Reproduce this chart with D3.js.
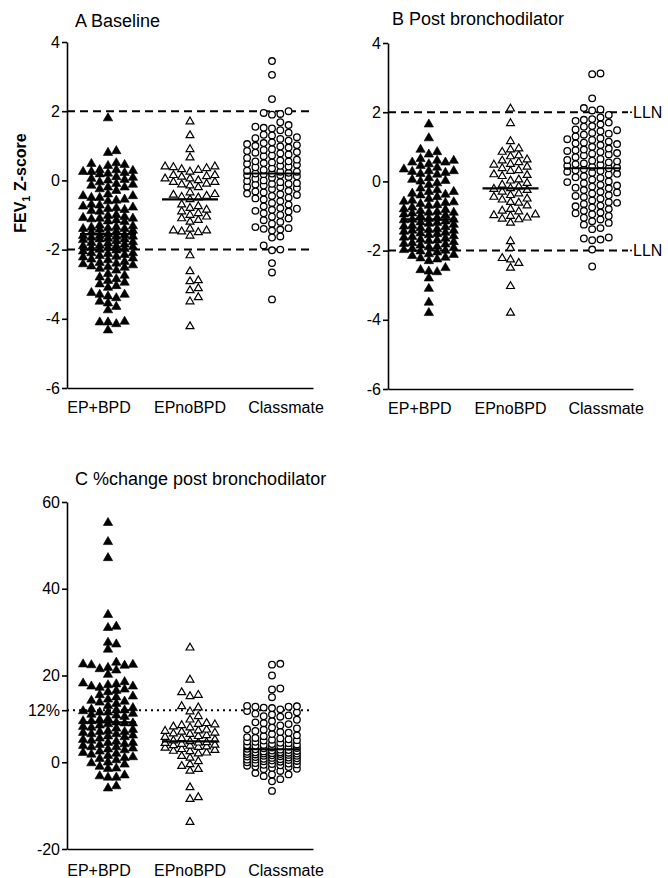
<!DOCTYPE html>
<html>
<head>
<meta charset="utf-8">
<script src="https://cdn.jsdelivr.net/npm/d3@7"></script>
<style>
  html, body { margin: 0; padding: 0; background: #fff; }
  svg { display: block; font-family: "Liberation Sans", Arial, sans-serif; }
  .axis path, .axis line { stroke: #000; stroke-width: 1.6; }
  .axis text { font-size: 16px; fill: #000; }
</style>
</head>
<body>
<svg id="chart" width="668" height="878"></svg>
<script>
// ---------- Data ----------
const categories = ['EP+BPD', 'EPnoBPD', 'Classmate'];

const zTicks = [4, 2, 0, -2, -4, -6];
const changeTicks = [60, 40, 20, 12, 0, -20];
const changeTickLabels = ['60', '40', '20', '12%', '0', '-20'];
const llnLevels = [2, -2];
const changeThreshold = 12;

// A Baseline FEV1 z-score
const baseEpBpd = [1.8, 0.85, 0.8,
  0.5, 0.45, 0.42, 0.48,
  0.3, 0.28, 0.25, 0.22, 0.2, 0.3, 0.25, 0.18,
  0.05, 0.1, 0.0, -0.05, 0.08, 0.02,
  -0.1, -0.15, -0.2, -0.25, -0.3, -0.2, -0.12,
  -0.4, -0.45, -0.5, -0.55, -0.6, -0.5, -0.45, -0.58,
  -0.7, -0.75, -0.8, -0.85, -0.9, -0.72, -0.78, -0.88, -0.82,
  -1.0, -1.05, -1.1, -1.15, -1.2, -1.02, -1.08, -1.12, -1.18, -1.1,
  -1.3, -1.35, -1.4, -1.45, -1.5, -1.32, -1.38, -1.42, -1.48, -1.4, -1.36,
  -1.55, -1.6, -1.65, -1.7, -1.75, -1.58, -1.62, -1.68, -1.72, -1.6, -1.62, -1.7,
  -1.8, -1.85, -1.9, -1.95, -2.0, -1.82, -1.88, -1.92, -1.98, -1.78, -1.9, -1.95,
  -2.05, -2.1, -2.15, -2.2, -2.25, -2.3, -2.12, -2.18, -2.22, -2.02, -2.28, -2.1,
  -2.35, -2.4, -2.45, -2.5, -2.55, -2.6, -2.42, -2.52, -2.38, -2.48,
  -2.7, -2.75, -2.85, -2.9, -2.8,
  -2.95, -3.0, -3.05, -3.1,
  -3.25, -3.3, -3.35, -3.4, -3.3,
  -3.5, -3.55, -3.65, -3.75,
  -4.08, -4.1, -4.15, -4.1, -4.33];
const baseEpNoBpd = [1.7, 1.3, 0.9, 0.66,
  0.4, 0.32, 0.35, 0.3, 0.4, 0.25, 0.38,
  0.15, 0.05, 0.0, 0.1, 0.05, 0.15, -0.05, 0.12,
  -0.1, -0.2, -0.15, -0.12, -0.05,
  -0.4, -0.45, -0.5, -0.35, -0.42, -0.55, -0.48,
  -0.75, -0.8, -0.9, -0.7, -0.85,
  -1.0, -1.1, -1.2, -1.05, -1.15, -0.95,
  -1.45, -1.5, -1.6, -1.45, -1.4, -1.48,
  -2.17, -2.63, -2.89, -2.92, -3.12, -3.18, -3.38, -3.5, -4.22];
const baseClassmate = [3.45, 3.05, 2.35,
  2.0, 1.95, 1.92, 1.9,
  1.68, 1.55, 1.5, 1.45, 1.52, 1.6,
  1.38, 1.3, 1.25, 1.2, 1.15, 1.32, 1.22,
  1.1, 1.05, 1.0, 0.98, 0.95, 1.08, 1.02,
  0.9, 0.85, 0.8, 0.75, 0.7, 0.65, 0.88, 0.78, 0.72, 0.82,
  0.6, 0.55, 0.5, 0.45, 0.4, 0.35, 0.58, 0.52, 0.48, 0.42, 0.38, 0.55,
  0.3, 0.28, 0.25, 0.22, 0.2, 0.18, 0.15, 0.12, 0.1, 0.08, 0.05, 0.25, 0.2, 0.15,
  0.0, -0.02, -0.05, -0.08, -0.1, -0.12, -0.15, -0.18, -0.2, -0.22, -0.25, -0.1,
  -0.3, -0.32, -0.35, -0.4, -0.42, -0.45, -0.5, -0.52, -0.55, -0.38,
  -0.6, -0.65, -0.7, -0.75, -0.8, -0.85, -0.9, -0.95, -0.88, -0.82,
  -1.0, -1.05, -1.1, -1.15, -1.2, -1.25,
  -1.35, -1.38, -1.4, -1.42, -1.45,
  -1.62, -1.65,
  -1.88, -2.0, -2.02,
  -2.39, -2.66, -3.44];
const baseMedians = [-1.55, -0.55, 0.2];

// B Post bronchodilator FEV1 z-score
const postEpBpd = [1.65, 1.25,
  0.92, 0.85, 0.78, 0.65,
  0.6, 0.55, 0.5, 0.45, 0.4, 0.55, 0.6,
  0.35, 0.3, 0.25, 0.2, 0.3, 0.22, 0.28,
  0.1, 0.05, 0.0, -0.05, -0.1, 0.02,
  -0.2, -0.25, -0.3, -0.35, -0.4, -0.45, -0.3, -0.38,
  -0.5, -0.55, -0.6, -0.65, -0.7, -0.75, -0.58, -0.68, -0.62,
  -0.8, -0.85, -0.9, -0.95, -1.0, -0.82, -0.88, -0.92, -0.98, -0.9,
  -1.05, -1.1, -1.15, -1.2, -1.25, -1.08, -1.12, -1.18, -1.22, -1.1,
  -1.3, -1.35, -1.4, -1.45, -1.5, -1.32, -1.42, -1.48, -1.38, -1.28, -1.42,
  -1.55, -1.6, -1.65, -1.7, -1.75, -1.58, -1.68, -1.72, -1.52, -1.62,
  -1.8, -1.85, -1.9, -1.95, -2.0, -1.82, -1.92, -1.98, -1.88, -1.78,
  -2.05, -2.1, -2.15, -2.2, -2.25, -2.3, -2.12, -2.22, -2.02,
  -2.5, -2.56, -2.6, -2.62, -2.8, -3.1, -3.5, -3.8];
const postEpNoBpd = [2.1, 1.68, 1.16,
  0.95, 0.92, 0.85, 0.75, 0.72, 0.63, 0.6, 0.55,
  0.5, 0.48, 0.42, 0.38, 0.32, 0.3,
  0.2, 0.18, 0.15, 0.05, 0.02,
  -0.05, -0.1, -0.15, -0.2, -0.22, -0.25, -0.3, -0.35, -0.4,
  -0.45, -0.5, -0.53, -0.6, -0.62, -0.7,
  -0.8, -0.85, -0.87, -0.96, -1.0, -1.05, -1.08, -1.1, -0.98, -1.2,
  -1.73, -1.93, -2.22, -2.26, -2.36, -2.5, -3.03, -3.8];
const postClassmate = [3.12, 3.1, 2.4, 2.12, 2.08, 2.05,
  1.92, 1.85, 1.8, 1.78, 1.75, 1.7, 1.65, 1.6,
  1.58, 1.5, 1.45, 1.4, 1.35, 1.3, 1.48, 1.38,
  1.25, 1.2, 1.15, 1.1, 1.05, 1.0, 1.22, 1.12, 1.08,
  0.95, 0.9, 0.85, 0.8, 0.75, 0.7, 0.92, 0.82, 0.78, 0.88,
  0.65, 0.6, 0.55, 0.5, 0.45, 0.4, 0.62, 0.52, 0.48, 0.42, 0.58,
  0.38, 0.35, 0.3, 0.25, 0.2, 0.15, 0.1, 0.32, 0.22, 0.12, 0.28,
  0.05, 0.0, -0.05, -0.1, -0.15, -0.2, -0.02, -0.12, -0.18,
  -0.25, -0.3, -0.35, -0.4, -0.45, -0.5, -0.32, -0.42,
  -0.55, -0.6, -0.65, -0.7, -0.75, -0.8, -0.62, -0.72,
  -0.85, -0.9, -0.95, -1.0, -1.05, -1.1, -0.92,
  -1.15, -1.2, -1.25, -1.35, -1.38,
  -1.62, -1.65, -1.68, -1.7,
  -1.97, -2.46];
const postMedians = [-1.1, -0.2, 0.38];

// C % change post bronchodilator
const changeEpBpd = [55.2, 50.8, 47.1, 34, 31.3, 31, 27.6, 27.2, 26,
  22.5, 22.3, 23, 22.6, 22.4, 21.8, 21.5, 21.2, 20.2,
  18.5, 18, 17.5, 17.8, 17.2, 16.5, 16.8, 16.2, 17.5, 18.2,
  15.5, 15, 14.5, 14, 13.5, 13, 15.2, 14.2, 13.8,
  12.5, 12, 11.5, 11, 10.5, 12.2, 11.8, 11.2, 10.8, 12, 11.5,
  10, 9.5, 9, 8.5, 8, 9.8, 9.2, 8.8, 8.2, 9.5, 9,
  7.5, 7, 6.5, 6, 5.5, 7.2, 6.8, 6.2, 5.8, 7, 6.5, 7.8,
  5, 4.5, 4, 3.5, 3, 4.8, 4.2, 3.8, 3.2, 4.5, 5.2, 3.5,
  2.5, 2, 1.5, 1, 0.5, 2.2, 1.2, 0.8, 2.8, 1.8,
  0, -0.5, -1, -1.4, -1.5, -0.2,
  -3, -3.5, -3.5, -3.2,
  -6, -5.5];
const changeEpNoBpd = [26.4, 19, 16.1, 15.2, 15.5, 12.9, 12.6, 11.7, 10.6, 9.8,
  9, 8.7, 8.5, 8.2, 8.8, 8,
  7.5, 7.2, 7, 6.8, 6.5, 7.3, 6.6,
  6.2, 6, 5.8, 5.5, 5.2, 5,
  4.8, 4.5, 4.2, 4, 3.8, 3.5, 4.4, 3.6, 3.9, 4.6,
  3.3, 3, 2.8, 2.5, 2, 2.2, 2.6,
  1.4, 1.0, 0.2, -0.5, -0.9, -1.6, -2,
  -5.8, -8.1, -8.5, -13.8];
const changeClassmate = [22.7, 22.5, 20, 17, 16.8, 15,
  13, 12.9, 12.8, 12.5, 12.6, 12.2, 12.8,
  11.8, 11.5, 11.2, 10.8, 10.5, 10.6, 11,
  9.8, 9.5, 9, 8.5, 8, 9.2, 8.8,
  7.8, 7.5, 7, 6.5, 6, 7.2, 6.8, 6.2, 7.6,
  5.8, 5.5, 5.2, 5, 4.8, 4.5, 5.6, 5.3, 4.7, 5.1,
  4.4, 4.2, 4, 3.8, 3.6, 3.4, 3.2, 3, 4.1, 3.7, 3.3, 3.1, 3.9,
  2.9, 2.7, 2.5, 2.3, 2.1, 1.9, 1.7, 1.5, 2.8, 2.4, 2.0, 1.6, 2.6, 2.2, 1.8, 2.0, 1.5, 1.9, 2.3,
  1.4, 1.2, 1.0, 0.8, 0.6, 0.4, 0.2, 0, 1.1, 0.5, 0.9, 0.3, 1.3, 0.7, 0.1, 0.6,
  -0.2, -0.5, -0.8, -1.0, -1.3, -1.6, -2.0, -0.6, -0.3, -1.1, -0.4, -0.7, -1.5,
  -2.5, -2.8, -2.8, -3.2, -3.9, -4.4,
  -6.6];
const changeMedians = [9.2, 4.8, 3.0];

// ---------- Drawing ----------
const svg = d3.select('#chart');
const markers = ['filledTriangle', 'openTriangle', 'openCircle'];
const labelShift = [-9, 0, 14];

// column scatter: points stacked into up to 7 columns so that near values spread sideways
function swarm(values, y, cx, step, maxCol, minDy) {
  const order = [0];
  for (let k = 1; k <= maxCol; k++) order.push(k, -k);
  const placed = [];
  return values.slice().sort((a, b) => a - b).map(v => {
    const py = y(v);
    let best = 0, bestGap = -1;
    for (const c of order) {
      const same = placed.filter(p => p.col === c);
      const gap = same.length ? d3.min(same, p => Math.abs(p.py - py)) : Infinity;
      if (gap >= minDy) { best = c; break; }
      if (gap > bestGap) { bestGap = gap; best = c; }
    }
    placed.push({ col: best, py });
    return { v, x: cx + best * step, y: py };
  });
}

function drawPanel(cfg) {
  const g = svg.append('g');
  const x = d3.scaleBand().domain(categories).range([cfg.left, cfg.right]);
  const y = d3.scaleLinear().domain(cfg.domain).range([cfg.bottom, cfg.top]);

  g.append('text')
    .attr('x', cfg.titleX).attr('y', cfg.titleY)
    .attr('font-size', 18)
    .text(cfg.title);

  // reference lines
  cfg.refs.forEach(r => {
    g.append('line')
      .attr('x1', cfg.left).attr('x2', cfg.refEnd)
      .attr('y1', y(r)).attr('y2', y(r))
      .attr('stroke', '#000').attr('stroke-width', 2)
      .attr('stroke-dasharray', cfg.dash);
    if (cfg.refLabel) {
      g.append('circle').attr('cx', cfg.refEnd + 3).attr('cy', y(r)).attr('r', 1).attr('fill', '#000');
      g.append('text')
        .attr('x', cfg.refEnd + 5).attr('y', y(r)).attr('dy', '0.36em')
        .attr('font-size', 16)
        .text(cfg.refLabel);
    }
  });

  // points
  cfg.groups.forEach((vals, i) => {
    const cx = x(categories[i]) + x.bandwidth() / 2;
    const pts = swarm(vals, y, cx, 8.3, 3, 6.5);
    const layer = g.append('g');
    if (markers[i] === 'openCircle') {
      layer.selectAll('circle').data(pts).join('circle')
        .attr('cx', d => d.x).attr('cy', d => d.y).attr('r', 3.3)
        .attr('fill', '#fff').attr('stroke', '#000').attr('stroke-width', 1.3);
    } else {
      const filled = markers[i] === 'filledTriangle';
      const sym = d3.symbol().type(d3.symbolTriangle).size(filled ? 38 : 27);
      layer.selectAll('path').data(pts).join('path')
        .attr('d', sym)
        .attr('transform', d => `translate(${d.x},${d.y})`)
        .attr('fill', filled ? '#000' : '#fff')
        .attr('stroke', '#000').attr('stroke-width', filled ? 0.6 : 1.2);
    }
    // median bar
    g.append('line')
      .attr('x1', cx - 28).attr('x2', cx + 28)
      .attr('y1', y(cfg.medians[i])).attr('y2', y(cfg.medians[i]))
      .attr('stroke', '#000').attr('stroke-width', 2.2);
  });

  // axes
  const yAxis = d3.axisLeft(y).tickValues(cfg.ticks).tickSize(5).tickSizeOuter(0).tickPadding(2)
    .tickFormat((d, i) => cfg.tickLabels ? cfg.tickLabels[i] : d3.format('d')(d).replace('−', '-'));
  g.append('g').attr('class', 'axis')
    .attr('transform', `translate(${cfg.left},0)`)
    .call(yAxis)
    .call(a => a.selectAll('text').attr('font-family', null));

  const xAxis = d3.axisBottom(x).tickSize(0).tickSizeOuter(0);
  g.append('g').attr('class', 'axis')
    .attr('transform', `translate(0,${cfg.bottom})`)
    .call(xAxis)
    .call(a => a.selectAll('text').attr('y', cfg.labelBase).attr('dy', 0)
      .attr('dx', (d, i) => labelShift[i]).attr('font-family', null));
}

drawPanel({
  title: 'A  Baseline', titleX: 75, titleY: 27,
  left: 67, right: 313, top: 42, bottom: 388, domain: [-6, 4],
  ticks: zTicks, groups: [baseEpBpd, baseEpNoBpd, baseClassmate], medians: baseMedians,
  refs: llnLevels, refEnd: 313, dash: '8,5', labelBase: 25
});

drawPanel({
  title: 'B  Post bronchodilator', titleX: 392, titleY: 25,
  left: 388, right: 633, top: 43, bottom: 389, domain: [-6, 4],
  ticks: zTicks, groups: [postEpBpd, postEpNoBpd, postClassmate], medians: postMedians,
  refs: llnLevels, refEnd: 628, dash: '8,5', refLabel: 'LLN', labelBase: 25
});

drawPanel({
  title: 'C  %change post bronchodilator', titleX: 75, titleY: 485,
  left: 67, right: 313, top: 502, bottom: 849, domain: [-20, 60],
  ticks: changeTicks, tickLabels: changeTickLabels,
  groups: [changeEpBpd, changeEpNoBpd, changeClassmate], medians: changeMedians,
  refs: [changeThreshold], refEnd: 311, dash: '2,4', labelBase: 27
});

// y-axis title of the top row
const yt = svg.append('text')
  .attr('transform', 'translate(26,183) rotate(-90)')
  .attr('text-anchor', 'middle')
  .attr('font-size', 16).attr('font-weight', 'bold');
yt.append('tspan').text('FEV');
yt.append('tspan').attr('font-size', 11).attr('dy', 4).text('1');
yt.append('tspan').attr('dy', -4).text(' Z-score');
</script>
</body>
</html>
